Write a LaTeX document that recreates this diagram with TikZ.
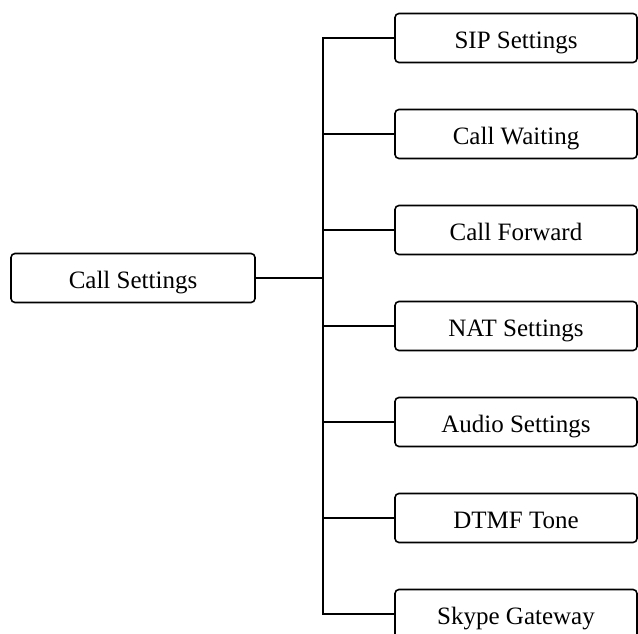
\documentclass[tikz,border=0pt]{standalone}
\usepackage{fontspec}
\setmainfont{Liberation Serif}
\usepackage{tikz}

\tikzset{
  menubox/.style={draw, line width=1.6pt, rounded corners=4pt,
    minimum height=49pt, inner sep=0pt, text height=26pt, text depth=5pt,
    font=\fontsize{25}{30}\selectfont},
  leaf/.style={menubox, minimum width=242pt},
  link/.style={line width=1.6pt}
}

\begin{document}
\begin{tikzpicture}[x=1pt, y=-1pt]
    \useasboundingbox (0,0) rectangle (638,634);

    % Root menu
    \node[menubox, minimum width=244pt] (settings) at (133,278) {Call Settings};

    % Sub menus
    \node[leaf] (sip)     at (516,38)  {SIP Settings};
    \node[leaf] (wait)    at (516,134) {Call Waiting};
    \node[leaf] (forward) at (516,230) {Call Forward};
    \node[leaf] (nat)     at (516,326) {NAT Settings};
    \node[leaf] (audio)   at (516,422) {Audio Settings};
    \node[leaf] (dtmf)    at (516,518) {DTMF Tone};
    \node[leaf] (skype)   at (516,614) {Skype Gateway};

    % Tree lines
    \coordinate (trunk) at (323,278);
    \draw[link] (settings.east) -- (trunk);
    \draw[link] (sip.west) -| (trunk) |- (skype.west);
    \foreach \n in {wait,forward,nat,audio,dtmf}
        \draw[link] (\n.west) -- (trunk |- \n.west);
\end{tikzpicture}
\end{document}
